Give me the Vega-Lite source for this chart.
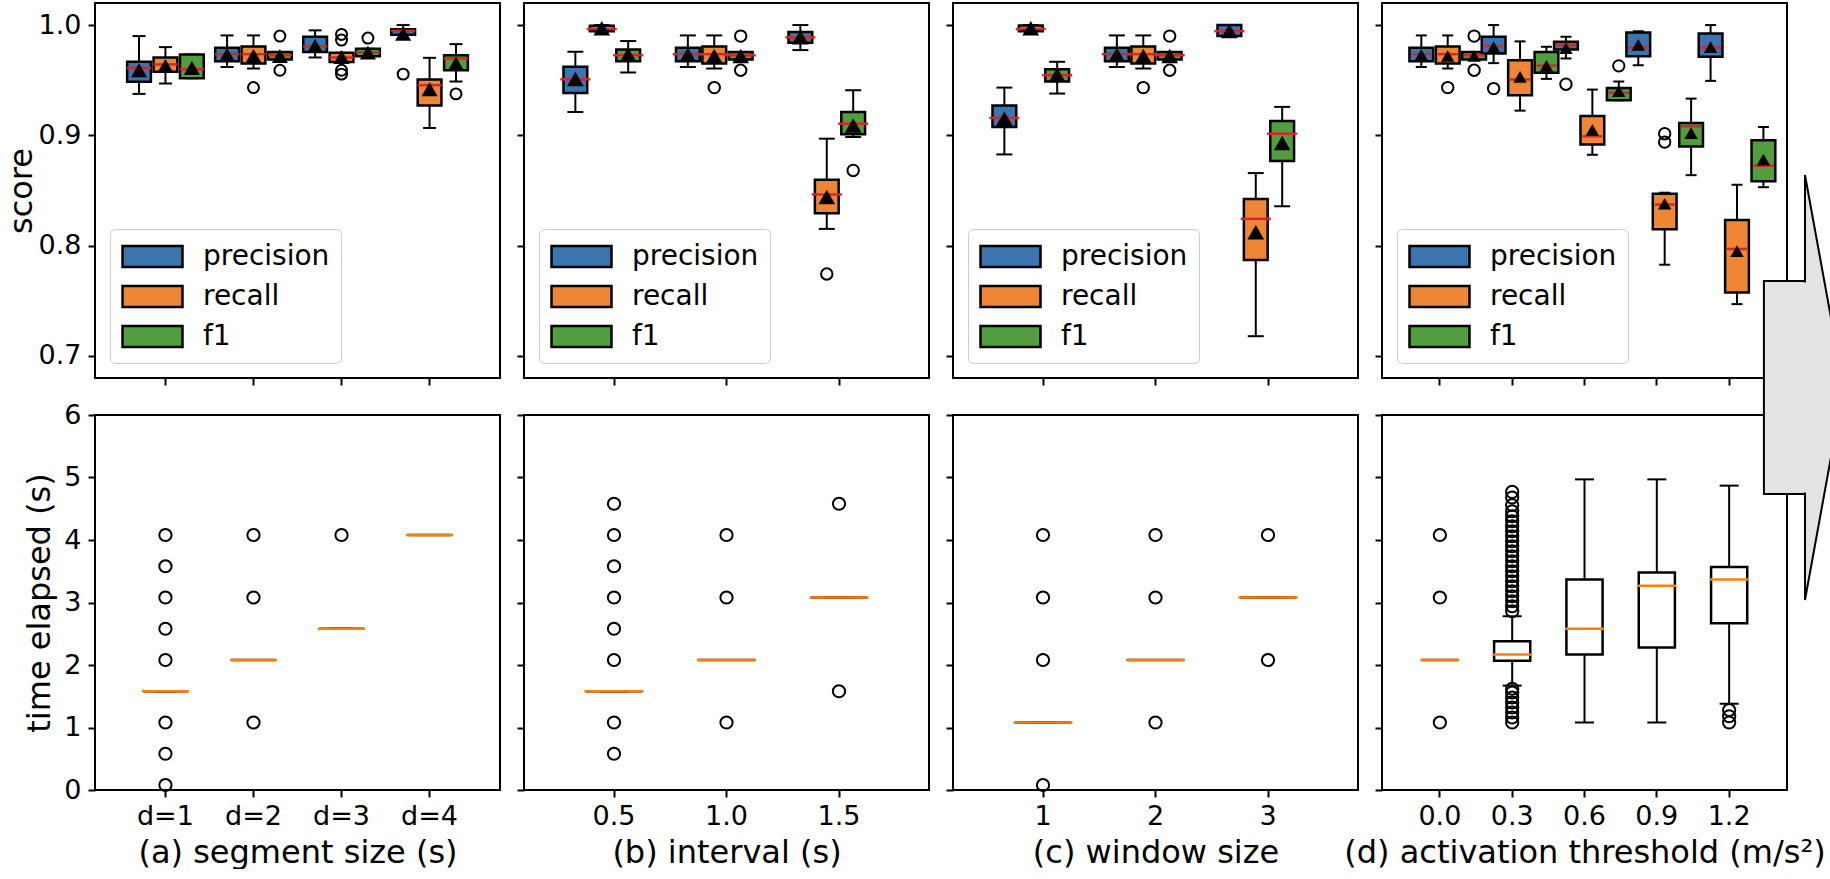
{
  "$schema": "https://vega.github.io/schema/vega-lite/v6.json",
  "padding": {"left": 4, "top": 2, "right": 0, "bottom": 0},
  "background": "white",
  "config": {
    "font": "DejaVu Sans",
    "view": {"stroke": "black", "strokeWidth": 2},
    "axis": {"domain": false, "grid": false, "tickColor": "black", "tickWidth": 2, "tickSize": 7, "labelColor": "black", "titleColor": "black", "labelFont": "DejaVu Sans", "titleFont": "DejaVu Sans", "labelFontSize": 27, "titleFontSize": 32, "titleFontWeight": "normal", "labelPadding": 7, "titlePadding": 3},
    "axisX": {"labelAngle": 0, "labelPadding": 6, "titlePadding": 8}
  },
  "datasets": {
    "box": [
      {"panel": "a", "param": "d=1", "metric": "precision", "lo": 0.9376, "q1": 0.9485, "med": 0.9612, "q3": 0.9667, "hi": 0.990, "mean": 0.959},
      {"panel": "a", "param": "d=1", "metric": "recall", "lo": 0.947, "q1": 0.9576, "med": 0.9643, "q3": 0.9706, "hi": 0.980, "mean": 0.963},
      {"panel": "a", "param": "d=1", "metric": "f1", "lo": 0.9518, "q1": 0.9518, "med": 0.960, "q3": 0.9733, "hi": 0.9733, "mean": 0.961},
      {"panel": "a", "param": "d=2", "metric": "precision", "lo": 0.962, "q1": 0.9673, "med": 0.9736, "q3": 0.9794, "hi": 0.9906, "mean": 0.973},
      {"panel": "a", "param": "d=2", "metric": "recall", "lo": 0.9606, "q1": 0.9652, "med": 0.9736, "q3": 0.9806, "hi": 0.9906, "mean": 0.972},
      {"panel": "a", "param": "d=2", "metric": "f1", "lo": 0.9688, "q1": 0.9688, "med": 0.9727, "q3": 0.9755, "hi": 0.9755, "mean": 0.972},
      {"panel": "a", "param": "d=3", "metric": "precision", "lo": 0.9706, "q1": 0.9755, "med": 0.9806, "q3": 0.9894, "hi": 0.9952, "mean": 0.981},
      {"panel": "a", "param": "d=3", "metric": "recall", "lo": 0.9664, "q1": 0.9664, "med": 0.9706, "q3": 0.9748, "hi": 0.9748, "mean": 0.971},
      {"panel": "a", "param": "d=3", "metric": "f1", "lo": 0.9718, "q1": 0.9718, "med": 0.9752, "q3": 0.9785, "hi": 0.9785, "mean": 0.975},
      {"panel": "a", "param": "d=4", "metric": "precision", "lo": 0.9912, "q1": 0.9912, "med": 0.9948, "q3": 0.9961, "hi": 1.0, "mean": 0.992},
      {"panel": "a", "param": "d=4", "metric": "recall", "lo": 0.9067, "q1": 0.927, "med": 0.9455, "q3": 0.9506, "hi": 0.9703, "mean": 0.9418},
      {"panel": "a", "param": "d=4", "metric": "f1", "lo": 0.9488, "q1": 0.959, "med": 0.9697, "q3": 0.9727, "hi": 0.9827, "mean": 0.965},
      {"panel": "b", "param": "0.5", "metric": "precision", "lo": 0.9212, "q1": 0.9385, "med": 0.9509, "q3": 0.9621, "hi": 0.9758, "mean": 0.951},
      {"panel": "b", "param": "0.5", "metric": "recall", "lo": 0.9945, "q1": 0.9945, "med": 0.9964, "q3": 0.9994, "hi": 1.0, "mean": 0.997},
      {"panel": "b", "param": "0.5", "metric": "f1", "lo": 0.957, "q1": 0.9673, "med": 0.9727, "q3": 0.9779, "hi": 0.9855, "mean": 0.973},
      {"panel": "b", "param": "1.0", "metric": "precision", "lo": 0.962, "q1": 0.9673, "med": 0.9736, "q3": 0.9794, "hi": 0.9906, "mean": 0.973},
      {"panel": "b", "param": "1.0", "metric": "recall", "lo": 0.9606, "q1": 0.9652, "med": 0.9736, "q3": 0.9806, "hi": 0.9906, "mean": 0.972},
      {"panel": "b", "param": "1.0", "metric": "f1", "lo": 0.9688, "q1": 0.9688, "med": 0.9727, "q3": 0.9755, "hi": 0.9755, "mean": 0.972},
      {"panel": "b", "param": "1.5", "metric": "precision", "lo": 0.9773, "q1": 0.9839, "med": 0.9888, "q3": 0.9936, "hi": 1.0, "mean": 0.989},
      {"panel": "b", "param": "1.5", "metric": "recall", "lo": 0.8152, "q1": 0.8294, "med": 0.8464, "q3": 0.8597, "hi": 0.897, "mean": 0.844},
      {"panel": "b", "param": "1.5", "metric": "f1", "lo": 0.8985, "q1": 0.9009, "med": 0.9106, "q3": 0.9212, "hi": 0.9409, "mean": 0.909},
      {"panel": "c", "param": "1", "metric": "precision", "lo": 0.8827, "q1": 0.9076, "med": 0.9158, "q3": 0.927, "hi": 0.9433, "mean": 0.915},
      {"panel": "c", "param": "1", "metric": "recall", "lo": 0.9945, "q1": 0.9945, "med": 0.9964, "q3": 0.9997, "hi": 1.0, "mean": 0.997},
      {"panel": "c", "param": "1", "metric": "f1", "lo": 0.9379, "q1": 0.9488, "med": 0.9545, "q3": 0.96, "hi": 0.9667, "mean": 0.955},
      {"panel": "c", "param": "2", "metric": "precision", "lo": 0.962, "q1": 0.9673, "med": 0.9736, "q3": 0.9794, "hi": 0.9906, "mean": 0.973},
      {"panel": "c", "param": "2", "metric": "recall", "lo": 0.9606, "q1": 0.9652, "med": 0.9736, "q3": 0.9806, "hi": 0.9906, "mean": 0.972},
      {"panel": "c", "param": "2", "metric": "f1", "lo": 0.9688, "q1": 0.9688, "med": 0.9727, "q3": 0.9755, "hi": 0.9755, "mean": 0.972},
      {"panel": "c", "param": "3", "metric": "precision", "lo": 0.99, "q1": 0.99, "med": 0.9945, "q3": 1.0, "hi": 1.0, "mean": 0.9945},
      {"panel": "c", "param": "3", "metric": "recall", "lo": 0.7179, "q1": 0.787, "med": 0.8243, "q3": 0.8424, "hi": 0.8658, "mean": 0.8121},
      {"panel": "c", "param": "3", "metric": "f1", "lo": 0.8357, "q1": 0.8767, "med": 0.9015, "q3": 0.913, "hi": 0.9258, "mean": 0.893},
      {"panel": "d", "param": "0.0", "metric": "precision", "lo": 0.962, "q1": 0.9673, "med": 0.9736, "q3": 0.9794, "hi": 0.9906, "mean": 0.973},
      {"panel": "d", "param": "0.0", "metric": "recall", "lo": 0.9606, "q1": 0.9652, "med": 0.9736, "q3": 0.9806, "hi": 0.9906, "mean": 0.972},
      {"panel": "d", "param": "0.0", "metric": "f1", "lo": 0.9688, "q1": 0.9688, "med": 0.9727, "q3": 0.9755, "hi": 0.9755, "mean": 0.972},
      {"panel": "d", "param": "0.3", "metric": "precision", "lo": 0.9655, "q1": 0.9742, "med": 0.9809, "q3": 0.9894, "hi": 1.0, "mean": 0.98},
      {"panel": "d", "param": "0.3", "metric": "recall", "lo": 0.9224, "q1": 0.9364, "med": 0.9506, "q3": 0.9682, "hi": 0.9852, "mean": 0.953},
      {"panel": "d", "param": "0.3", "metric": "f1", "lo": 0.9512, "q1": 0.9567, "med": 0.9633, "q3": 0.9755, "hi": 0.9803, "mean": 0.963},
      {"panel": "d", "param": "0.6", "metric": "precision", "lo": 0.9697, "q1": 0.9779, "med": 0.9818, "q3": 0.9848, "hi": 0.9894, "mean": 0.979},
      {"panel": "d", "param": "0.6", "metric": "recall", "lo": 0.8824, "q1": 0.8918, "med": 0.8991, "q3": 0.9176, "hi": 0.9415, "mean": 0.905},
      {"panel": "d", "param": "0.6", "metric": "f1", "lo": 0.9318, "q1": 0.9318, "med": 0.9385, "q3": 0.943, "hi": 0.9488, "mean": 0.94},
      {"panel": "d", "param": "0.9", "metric": "precision", "lo": 0.9636, "q1": 0.9718, "med": 0.9797, "q3": 0.9933, "hi": 0.9945, "mean": 0.982},
      {"panel": "d", "param": "0.9", "metric": "recall", "lo": 0.7827, "q1": 0.8148, "med": 0.8373, "q3": 0.847, "hi": 0.848, "mean": 0.838},
      {"panel": "d", "param": "0.9", "metric": "f1", "lo": 0.8639, "q1": 0.89, "med": 0.9082, "q3": 0.9112, "hi": 0.9333, "mean": 0.902},
      {"panel": "d", "param": "1.2", "metric": "precision", "lo": 0.9494, "q1": 0.9712, "med": 0.9797, "q3": 0.9924, "hi": 1.0, "mean": 0.98},
      {"panel": "d", "param": "1.2", "metric": "recall", "lo": 0.747, "q1": 0.7576, "med": 0.797, "q3": 0.8233, "hi": 0.8552, "mean": 0.795},
      {"panel": "d", "param": "1.2", "metric": "f1", "lo": 0.853, "q1": 0.8585, "med": 0.8724, "q3": 0.8955, "hi": 0.9076, "mean": 0.878}
    ],
    "out": [
      {"panel": "a", "param": "d=2", "metric": "recall", "v": 0.9433},
      {"panel": "a", "param": "d=2", "metric": "f1", "v": 0.990},
      {"panel": "a", "param": "d=2", "metric": "f1", "v": 0.959},
      {"panel": "a", "param": "d=3", "metric": "recall", "v": 0.9915},
      {"panel": "a", "param": "d=3", "metric": "recall", "v": 0.9864},
      {"panel": "a", "param": "d=3", "metric": "recall", "v": 0.959},
      {"panel": "a", "param": "d=3", "metric": "recall", "v": 0.9555},
      {"panel": "a", "param": "d=3", "metric": "f1", "v": 0.9882},
      {"panel": "a", "param": "d=4", "metric": "precision", "v": 0.9555},
      {"panel": "a", "param": "d=4", "metric": "f1", "v": 0.9376},
      {"panel": "b", "param": "1.0", "metric": "recall", "v": 0.9433},
      {"panel": "b", "param": "1.0", "metric": "f1", "v": 0.990},
      {"panel": "b", "param": "1.0", "metric": "f1", "v": 0.959},
      {"panel": "b", "param": "1.5", "metric": "recall", "v": 0.7743},
      {"panel": "b", "param": "1.5", "metric": "f1", "v": 0.8682},
      {"panel": "c", "param": "2", "metric": "recall", "v": 0.9433},
      {"panel": "c", "param": "2", "metric": "f1", "v": 0.990},
      {"panel": "c", "param": "2", "metric": "f1", "v": 0.959},
      {"panel": "d", "param": "0.0", "metric": "recall", "v": 0.9433},
      {"panel": "d", "param": "0.0", "metric": "f1", "v": 0.990},
      {"panel": "d", "param": "0.0", "metric": "f1", "v": 0.959},
      {"panel": "d", "param": "0.3", "metric": "precision", "v": 0.9424},
      {"panel": "d", "param": "0.6", "metric": "precision", "v": 0.9464},
      {"panel": "d", "param": "0.6", "metric": "f1", "v": 0.963},
      {"panel": "d", "param": "0.9", "metric": "recall", "v": 0.9015},
      {"panel": "d", "param": "0.9", "metric": "recall", "v": 0.8939}
    ],
    "tbox": [
      {"panel": "a", "param": "d=1", "lo": 1.58, "q1": 1.58, "med": 1.58, "q3": 1.58, "hi": 1.58},
      {"panel": "a", "param": "d=2", "lo": 2.08, "q1": 2.08, "med": 2.08, "q3": 2.08, "hi": 2.08},
      {"panel": "a", "param": "d=3", "lo": 2.58, "q1": 2.58, "med": 2.58, "q3": 2.58, "hi": 2.58},
      {"panel": "a", "param": "d=4", "lo": 4.08, "q1": 4.08, "med": 4.08, "q3": 4.08, "hi": 4.08},
      {"panel": "b", "param": "0.5", "lo": 1.58, "q1": 1.58, "med": 1.58, "q3": 1.58, "hi": 1.58},
      {"panel": "b", "param": "1.0", "lo": 2.08, "q1": 2.08, "med": 2.08, "q3": 2.08, "hi": 2.08},
      {"panel": "b", "param": "1.5", "lo": 3.08, "q1": 3.08, "med": 3.08, "q3": 3.08, "hi": 3.08},
      {"panel": "c", "param": "1", "lo": 1.08, "q1": 1.08, "med": 1.08, "q3": 1.08, "hi": 1.08},
      {"panel": "c", "param": "2", "lo": 2.08, "q1": 2.08, "med": 2.08, "q3": 2.08, "hi": 2.08},
      {"panel": "c", "param": "3", "lo": 3.08, "q1": 3.08, "med": 3.08, "q3": 3.08, "hi": 3.08},
      {"panel": "d", "param": "0.0", "lo": 2.08, "q1": 2.08, "med": 2.08, "q3": 2.08, "hi": 2.08},
      {"panel": "d", "param": "0.3", "lo": 1.67, "q1": 2.07, "med": 2.17, "q3": 2.38, "hi": 2.78},
      {"panel": "d", "param": "0.6", "lo": 1.08, "q1": 2.17, "med": 2.58, "q3": 3.37, "hi": 4.97},
      {"panel": "d", "param": "0.9", "lo": 1.08, "q1": 2.28, "med": 3.27, "q3": 3.48, "hi": 4.97},
      {"panel": "d", "param": "1.2", "lo": 1.38, "q1": 2.67, "med": 3.37, "q3": 3.57, "hi": 4.87}
    ],
    "tout": [
      {"panel": "a", "param": "d=1", "v": 4.08}, {"panel": "a", "param": "d=1", "v": 3.58}, {"panel": "a", "param": "d=1", "v": 3.08}, {"panel": "a", "param": "d=1", "v": 2.58},
      {"panel": "a", "param": "d=1", "v": 2.08}, {"panel": "a", "param": "d=1", "v": 1.08}, {"panel": "a", "param": "d=1", "v": 0.58}, {"panel": "a", "param": "d=1", "v": 0.08},
      {"panel": "a", "param": "d=2", "v": 4.08}, {"panel": "a", "param": "d=2", "v": 3.08}, {"panel": "a", "param": "d=2", "v": 1.08},
      {"panel": "a", "param": "d=3", "v": 4.08},
      {"panel": "b", "param": "0.5", "v": 4.58}, {"panel": "b", "param": "0.5", "v": 4.08}, {"panel": "b", "param": "0.5", "v": 3.58}, {"panel": "b", "param": "0.5", "v": 3.08},
      {"panel": "b", "param": "0.5", "v": 2.58}, {"panel": "b", "param": "0.5", "v": 2.08}, {"panel": "b", "param": "0.5", "v": 1.08}, {"panel": "b", "param": "0.5", "v": 0.58},
      {"panel": "b", "param": "1.0", "v": 4.08}, {"panel": "b", "param": "1.0", "v": 3.08}, {"panel": "b", "param": "1.0", "v": 1.08},
      {"panel": "b", "param": "1.5", "v": 4.58}, {"panel": "b", "param": "1.5", "v": 1.58},
      {"panel": "c", "param": "1", "v": 4.08}, {"panel": "c", "param": "1", "v": 3.08}, {"panel": "c", "param": "1", "v": 2.08}, {"panel": "c", "param": "1", "v": 0.08},
      {"panel": "c", "param": "2", "v": 4.08}, {"panel": "c", "param": "2", "v": 3.08}, {"panel": "c", "param": "2", "v": 1.08},
      {"panel": "c", "param": "3", "v": 4.08}, {"panel": "c", "param": "3", "v": 2.08},
      {"panel": "d", "param": "0.0", "v": 4.08}, {"panel": "d", "param": "0.0", "v": 3.08}, {"panel": "d", "param": "0.0", "v": 1.08},
      {"panel": "d", "param": "0.3", "v": 2.86}, {"panel": "d", "param": "0.3", "v": 2.94}, {"panel": "d", "param": "0.3", "v": 3.02}, {"panel": "d", "param": "0.3", "v": 3.10},
      {"panel": "d", "param": "0.3", "v": 3.18}, {"panel": "d", "param": "0.3", "v": 3.26}, {"panel": "d", "param": "0.3", "v": 3.34}, {"panel": "d", "param": "0.3", "v": 3.42},
      {"panel": "d", "param": "0.3", "v": 3.50}, {"panel": "d", "param": "0.3", "v": 3.58}, {"panel": "d", "param": "0.3", "v": 3.66}, {"panel": "d", "param": "0.3", "v": 3.74},
      {"panel": "d", "param": "0.3", "v": 3.82}, {"panel": "d", "param": "0.3", "v": 3.90}, {"panel": "d", "param": "0.3", "v": 3.98}, {"panel": "d", "param": "0.3", "v": 4.06},
      {"panel": "d", "param": "0.3", "v": 4.14}, {"panel": "d", "param": "0.3", "v": 4.22}, {"panel": "d", "param": "0.3", "v": 4.30}, {"panel": "d", "param": "0.3", "v": 4.38},
      {"panel": "d", "param": "0.3", "v": 4.46}, {"panel": "d", "param": "0.3", "v": 4.56}, {"panel": "d", "param": "0.3", "v": 4.68}, {"panel": "d", "param": "0.3", "v": 4.77},
      {"panel": "d", "param": "0.3", "v": 1.08}, {"panel": "d", "param": "0.3", "v": 1.16}, {"panel": "d", "param": "0.3", "v": 1.24}, {"panel": "d", "param": "0.3", "v": 1.32},
      {"panel": "d", "param": "0.3", "v": 1.40}, {"panel": "d", "param": "0.3", "v": 1.48}, {"panel": "d", "param": "0.3", "v": 1.56}, {"panel": "d", "param": "0.3", "v": 1.62},
      {"panel": "d", "param": "1.2", "v": 1.28}, {"panel": "d", "param": "1.2", "v": 1.18}, {"panel": "d", "param": "1.2", "v": 1.08}
    ],
    "arrowShaft": [{"x": 0.943, "x2": 1.0444, "y": 8.144, "y2": 4.736}],
    "arrowHead": [{"x": 1.0444, "y": 9.84, "y2": 3.04}, {"x": 1.14, "y": 6.44, "y2": 6.44}],
    "arrowSeam": [{"x": 1.038, "x2": 1.052, "y": 8.12, "y2": 4.76}]
  },
  "concat": [
    {
      "width": 405, "height": 375,
      "encoding": {
        "x": {"field": "param", "type": "nominal", "scale": {"type": "band", "domain": ["d=1", "d=2", "d=3", "d=4"], "paddingInner": 0, "paddingOuter": 0.3}, "axis": {"labels": false, "title": null}},
        "xOffset": {"field": "metric", "type": "nominal", "scale": {"domain": ["precision", "recall", "f1"], "paddingInner": 0.1, "paddingOuter": 0.2167}}
      },
      "layer": [
        {"data": {"name": "box"}, "transform": [{"filter": "datum.panel === 'a'"}],
         "layer": [
          {"mark": {"type": "rule", "color": "black", "strokeWidth": 2}, "encoding": {"y": {"field": "lo", "type": "quantitative", "scale": {"domain": [0.68, 1.02], "nice": false, "zero": false}, "axis": {"values": [0.7, 0.8, 0.9, 1.0], "format": ".1f", "title": "score", "titlePadding": 0}}, "y2": {"field": "q1"}}},
          {"mark": {"type": "rule", "color": "black", "strokeWidth": 2}, "encoding": {"y": {"field": "q3", "type": "quantitative", "axis": {"values": [0.7, 0.8, 0.9, 1.0], "format": ".1f", "title": "score", "titlePadding": 0}}, "y2": {"field": "hi"}}},
          {"mark": {"type": "tick", "color": "black", "thickness": 2, "size": 13, "opacity": 1}, "encoding": {"y": {"field": "lo", "type": "quantitative", "axis": {"values": [0.7, 0.8, 0.9, 1.0], "format": ".1f", "title": "score", "titlePadding": 0}}}},
          {"mark": {"type": "tick", "color": "black", "thickness": 2, "size": 13, "opacity": 1}, "encoding": {"y": {"field": "hi", "type": "quantitative", "axis": {"values": [0.7, 0.8, 0.9, 1.0], "format": ".1f", "title": "score", "titlePadding": 0}}}},
          {"mark": {"type": "bar", "stroke": "black", "strokeWidth": 2.5, "opacity": 1}, "encoding": {"y": {"field": "q1", "type": "quantitative", "axis": {"values": [0.7, 0.8, 0.9, 1.0], "format": ".1f", "title": "score", "titlePadding": 0}}, "y2": {"field": "q3"},
            "color": {"field": "metric", "type": "nominal", "scale": {"domain": ["precision", "recall", "f1"], "range": ["#3b75af", "#ef8636", "#519e3e"]},
              "legend": {"title": null, "orient": "bottom-left", "offset": 15, "symbolType": "M-1,-0.7H3V0.7H-1Z", "symbolSize": 900, "symbolStrokeColor": "black", "symbolStrokeWidth": 2.5, "labelFontSize": 28, "labelColor": "black", "labelOffset": 49, "padding": 11, "rowPadding": 8, "strokeColor": "#cccccc", "fillColor": "white", "cornerRadius": 5}}}},
          {"mark": {"type": "tick", "color": "#d62728", "thickness": 2.5, "size": 24, "opacity": 1}, "encoding": {"y": {"field": "med", "type": "quantitative", "axis": {"values": [0.7, 0.8, 0.9, 1.0], "format": ".1f", "title": "score", "titlePadding": 0}}}},
          {"mark": {"type": "point", "shape": "triangle-up", "filled": true, "color": "black", "size": 260, "opacity": 1}, "encoding": {"y": {"field": "mean", "type": "quantitative", "axis": {"values": [0.7, 0.8, 0.9, 1.0], "format": ".1f", "title": "score", "titlePadding": 0}}}}
         ]},
        {"data": {"name": "out"}, "transform": [{"filter": "datum.panel === 'a'"}],
         "mark": {"type": "point", "shape": "circle", "filled": false, "color": "black", "strokeWidth": 2, "size": 120, "opacity": 1},
         "encoding": {"y": {"field": "v", "type": "quantitative", "axis": {"values": [0.7, 0.8, 0.9, 1.0], "format": ".1f", "title": "score", "titlePadding": 0}}}}
      ]
    },
    {
      "width": 405, "height": 375,
      "encoding": {
        "x": {"field": "param", "type": "nominal", "scale": {"type": "band", "domain": ["0.5", "1.0", "1.5"], "paddingInner": 0, "paddingOuter": 0.3}, "axis": {"labels": false, "title": null}},
        "xOffset": {"field": "metric", "type": "nominal", "scale": {"domain": ["precision", "recall", "f1"], "paddingInner": 0.1, "paddingOuter": 0.2167}}
      },
      "layer": [
        {"data": {"name": "box"}, "transform": [{"filter": "datum.panel === 'b'"}],
         "layer": [
          {"mark": {"type": "rule", "color": "black", "strokeWidth": 2}, "encoding": {"y": {"field": "lo", "type": "quantitative", "scale": {"domain": [0.68, 1.02], "nice": false, "zero": false}, "axis": {"values": [0.7, 0.8, 0.9, 1.0], "labels": false, "title": null}}, "y2": {"field": "q1"}}},
          {"mark": {"type": "rule", "color": "black", "strokeWidth": 2}, "encoding": {"y": {"field": "q3", "type": "quantitative", "axis": {"values": [0.7, 0.8, 0.9, 1.0], "labels": false, "title": null}}, "y2": {"field": "hi"}}},
          {"mark": {"type": "tick", "color": "black", "thickness": 2, "size": 16, "opacity": 1}, "encoding": {"y": {"field": "lo", "type": "quantitative", "axis": {"values": [0.7, 0.8, 0.9, 1.0], "labels": false, "title": null}}}},
          {"mark": {"type": "tick", "color": "black", "thickness": 2, "size": 16, "opacity": 1}, "encoding": {"y": {"field": "hi", "type": "quantitative", "axis": {"values": [0.7, 0.8, 0.9, 1.0], "labels": false, "title": null}}}},
          {"mark": {"type": "bar", "stroke": "black", "strokeWidth": 2.5, "opacity": 1}, "encoding": {"y": {"field": "q1", "type": "quantitative", "axis": {"values": [0.7, 0.8, 0.9, 1.0], "labels": false, "title": null}}, "y2": {"field": "q3"},
            "color": {"field": "metric", "type": "nominal", "scale": {"domain": ["precision", "recall", "f1"], "range": ["#3b75af", "#ef8636", "#519e3e"]},
              "legend": {"title": null, "orient": "bottom-left", "offset": 15, "symbolType": "M-1,-0.7H3V0.7H-1Z", "symbolSize": 900, "symbolStrokeColor": "black", "symbolStrokeWidth": 2.5, "labelFontSize": 28, "labelColor": "black", "labelOffset": 49, "padding": 11, "rowPadding": 8, "strokeColor": "#cccccc", "fillColor": "white", "cornerRadius": 5}}}},
          {"mark": {"type": "tick", "color": "#d62728", "thickness": 2.5, "size": 30, "opacity": 1}, "encoding": {"y": {"field": "med", "type": "quantitative", "axis": {"values": [0.7, 0.8, 0.9, 1.0], "labels": false, "title": null}}}},
          {"mark": {"type": "point", "shape": "triangle-up", "filled": true, "color": "black", "size": 280, "opacity": 1}, "encoding": {"y": {"field": "mean", "type": "quantitative", "axis": {"values": [0.7, 0.8, 0.9, 1.0], "labels": false, "title": null}}}}
         ]},
        {"data": {"name": "out"}, "transform": [{"filter": "datum.panel === 'b'"}],
         "mark": {"type": "point", "shape": "circle", "filled": false, "color": "black", "strokeWidth": 2, "size": 130, "opacity": 1},
         "encoding": {"y": {"field": "v", "type": "quantitative", "axis": {"values": [0.7, 0.8, 0.9, 1.0], "labels": false, "title": null}}}}
      ]
    },
    {
      "width": 405, "height": 375,
      "encoding": {
        "x": {"field": "param", "type": "nominal", "scale": {"type": "band", "domain": ["1", "2", "3"], "paddingInner": 0, "paddingOuter": 0.3}, "axis": {"labels": false, "title": null}},
        "xOffset": {"field": "metric", "type": "nominal", "scale": {"domain": ["precision", "recall", "f1"], "paddingInner": 0.1, "paddingOuter": 0.2167}}
      },
      "layer": [
        {"data": {"name": "box"}, "transform": [{"filter": "datum.panel === 'c'"}],
         "layer": [
          {"mark": {"type": "rule", "color": "black", "strokeWidth": 2}, "encoding": {"y": {"field": "lo", "type": "quantitative", "scale": {"domain": [0.68, 1.02], "nice": false, "zero": false}, "axis": {"values": [0.7, 0.8, 0.9, 1.0], "labels": false, "title": null}}, "y2": {"field": "q1"}}},
          {"mark": {"type": "rule", "color": "black", "strokeWidth": 2}, "encoding": {"y": {"field": "q3", "type": "quantitative", "axis": {"values": [0.7, 0.8, 0.9, 1.0], "labels": false, "title": null}}, "y2": {"field": "hi"}}},
          {"mark": {"type": "tick", "color": "black", "thickness": 2, "size": 16, "opacity": 1}, "encoding": {"y": {"field": "lo", "type": "quantitative", "axis": {"values": [0.7, 0.8, 0.9, 1.0], "labels": false, "title": null}}}},
          {"mark": {"type": "tick", "color": "black", "thickness": 2, "size": 16, "opacity": 1}, "encoding": {"y": {"field": "hi", "type": "quantitative", "axis": {"values": [0.7, 0.8, 0.9, 1.0], "labels": false, "title": null}}}},
          {"mark": {"type": "bar", "stroke": "black", "strokeWidth": 2.5, "opacity": 1}, "encoding": {"y": {"field": "q1", "type": "quantitative", "axis": {"values": [0.7, 0.8, 0.9, 1.0], "labels": false, "title": null}}, "y2": {"field": "q3"},
            "color": {"field": "metric", "type": "nominal", "scale": {"domain": ["precision", "recall", "f1"], "range": ["#3b75af", "#ef8636", "#519e3e"]},
              "legend": {"title": null, "orient": "bottom-left", "offset": 15, "symbolType": "M-1,-0.7H3V0.7H-1Z", "symbolSize": 900, "symbolStrokeColor": "black", "symbolStrokeWidth": 2.5, "labelFontSize": 28, "labelColor": "black", "labelOffset": 49, "padding": 11, "rowPadding": 8, "strokeColor": "#cccccc", "fillColor": "white", "cornerRadius": 5}}}},
          {"mark": {"type": "tick", "color": "#d62728", "thickness": 2.5, "size": 30, "opacity": 1}, "encoding": {"y": {"field": "med", "type": "quantitative", "axis": {"values": [0.7, 0.8, 0.9, 1.0], "labels": false, "title": null}}}},
          {"mark": {"type": "point", "shape": "triangle-up", "filled": true, "color": "black", "size": 280, "opacity": 1}, "encoding": {"y": {"field": "mean", "type": "quantitative", "axis": {"values": [0.7, 0.8, 0.9, 1.0], "labels": false, "title": null}}}}
         ]},
        {"data": {"name": "out"}, "transform": [{"filter": "datum.panel === 'c'"}],
         "mark": {"type": "point", "shape": "circle", "filled": false, "color": "black", "strokeWidth": 2, "size": 130, "opacity": 1},
         "encoding": {"y": {"field": "v", "type": "quantitative", "axis": {"values": [0.7, 0.8, 0.9, 1.0], "labels": false, "title": null}}}}
      ]
    },
    {
      "width": 405, "height": 375,
      "encoding": {
        "x": {"field": "param", "type": "nominal", "scale": {"type": "band", "domain": ["0.0", "0.3", "0.6", "0.9", "1.2"], "paddingInner": 0, "paddingOuter": 0.3}, "axis": {"labels": false, "title": null}},
        "xOffset": {"field": "metric", "type": "nominal", "scale": {"domain": ["precision", "recall", "f1"], "paddingInner": 0.1, "paddingOuter": 0.2167}}
      },
      "layer": [
        {"data": {"name": "box"}, "transform": [{"filter": "datum.panel === 'd'"}],
         "layer": [
          {"mark": {"type": "rule", "color": "black", "strokeWidth": 2}, "encoding": {"y": {"field": "lo", "type": "quantitative", "scale": {"domain": [0.68, 1.02], "nice": false, "zero": false}, "axis": {"values": [0.7, 0.8, 0.9, 1.0], "labels": false, "title": null}}, "y2": {"field": "q1"}}},
          {"mark": {"type": "rule", "color": "black", "strokeWidth": 2}, "encoding": {"y": {"field": "q3", "type": "quantitative", "axis": {"values": [0.7, 0.8, 0.9, 1.0], "labels": false, "title": null}}, "y2": {"field": "hi"}}},
          {"mark": {"type": "tick", "color": "black", "thickness": 2, "size": 11, "opacity": 1}, "encoding": {"y": {"field": "lo", "type": "quantitative", "axis": {"values": [0.7, 0.8, 0.9, 1.0], "labels": false, "title": null}}}},
          {"mark": {"type": "tick", "color": "black", "thickness": 2, "size": 11, "opacity": 1}, "encoding": {"y": {"field": "hi", "type": "quantitative", "axis": {"values": [0.7, 0.8, 0.9, 1.0], "labels": false, "title": null}}}},
          {"mark": {"type": "bar", "stroke": "black", "strokeWidth": 2.5, "opacity": 1}, "encoding": {"y": {"field": "q1", "type": "quantitative", "axis": {"values": [0.7, 0.8, 0.9, 1.0], "labels": false, "title": null}}, "y2": {"field": "q3"},
            "color": {"field": "metric", "type": "nominal", "scale": {"domain": ["precision", "recall", "f1"], "range": ["#3b75af", "#ef8636", "#519e3e"]},
              "legend": {"title": null, "orient": "bottom-left", "offset": 15, "symbolType": "M-1,-0.7H3V0.7H-1Z", "symbolSize": 900, "symbolStrokeColor": "black", "symbolStrokeWidth": 2.5, "labelFontSize": 28, "labelColor": "black", "labelOffset": 49, "padding": 11, "rowPadding": 8, "strokeColor": "#cccccc", "fillColor": "white", "cornerRadius": 5}}}},
          {"mark": {"type": "tick", "color": "#d62728", "thickness": 2.5, "size": 20, "opacity": 1}, "encoding": {"y": {"field": "med", "type": "quantitative", "axis": {"values": [0.7, 0.8, 0.9, 1.0], "labels": false, "title": null}}}},
          {"mark": {"type": "point", "shape": "triangle-up", "filled": true, "color": "black", "size": 180, "opacity": 1}, "encoding": {"y": {"field": "mean", "type": "quantitative", "axis": {"values": [0.7, 0.8, 0.9, 1.0], "labels": false, "title": null}}}}
         ]},
        {"data": {"name": "out"}, "transform": [{"filter": "datum.panel === 'd'"}],
         "mark": {"type": "point", "shape": "circle", "filled": false, "color": "black", "strokeWidth": 2, "size": 130, "opacity": 1},
         "encoding": {"y": {"field": "v", "type": "quantitative", "axis": {"values": [0.7, 0.8, 0.9, 1.0], "labels": false, "title": null}}}}
      ]
    },
    {
      "width": 405, "height": 375,
      "encoding": {
        "x": {"field": "param", "type": "nominal", "scale": {"type": "band", "domain": ["d=1", "d=2", "d=3", "d=4"], "paddingInner": 0, "paddingOuter": 0.3}, "axis": {"title": "(a) segment size (s)"}}
      },
      "layer": [
        {"data": {"name": "tbox"}, "transform": [{"filter": "datum.panel === 'a'"}],
         "layer": [
          {"mark": {"type": "rule", "color": "black", "strokeWidth": 2}, "encoding": {"y": {"field": "lo", "type": "quantitative", "scale": {"domain": [0, 6], "nice": false, "zero": false}, "axis": {"values": [0, 1, 2, 3, 4, 5, 6], "title": "time elapsed (s)", "titlePadding": 7}}, "y2": {"field": "q1"}}},
          {"mark": {"type": "rule", "color": "black", "strokeWidth": 2}, "encoding": {"y": {"field": "q3", "type": "quantitative", "axis": {"values": [0, 1, 2, 3, 4, 5, 6], "title": "time elapsed (s)", "titlePadding": 7}}, "y2": {"field": "hi"}}},
          {"mark": {"type": "tick", "color": "black", "thickness": 2, "size": 22, "opacity": 1}, "encoding": {"y": {"field": "lo", "type": "quantitative", "axis": {"values": [0, 1, 2, 3, 4, 5, 6], "title": "time elapsed (s)", "titlePadding": 7}}}},
          {"mark": {"type": "tick", "color": "black", "thickness": 2, "size": 22, "opacity": 1}, "encoding": {"y": {"field": "hi", "type": "quantitative", "axis": {"values": [0, 1, 2, 3, 4, 5, 6], "title": "time elapsed (s)", "titlePadding": 7}}}},
          {"mark": {"type": "bar", "fill": "white", "fillOpacity": 0, "stroke": "black", "strokeWidth": 2.5, "width": {"band": 0.5}}, "encoding": {"y": {"field": "q1", "type": "quantitative", "axis": {"values": [0, 1, 2, 3, 4, 5, 6], "title": "time elapsed (s)", "titlePadding": 7}}, "y2": {"field": "q3"}}},
          {"mark": {"type": "tick", "color": "#ff7f0e", "thickness": 2.5, "size": 47, "opacity": 1}, "encoding": {"y": {"field": "med", "type": "quantitative", "axis": {"values": [0, 1, 2, 3, 4, 5, 6], "title": "time elapsed (s)", "titlePadding": 7}}}}
         ]},
        {"data": {"name": "tout"}, "transform": [{"filter": "datum.panel === 'a'"}],
         "mark": {"type": "point", "shape": "circle", "filled": false, "color": "black", "strokeWidth": 2, "size": 150, "opacity": 1},
         "encoding": {"y": {"field": "v", "type": "quantitative", "axis": {"values": [0, 1, 2, 3, 4, 5, 6], "title": "time elapsed (s)", "titlePadding": 7}}}}
      ]
    },
    {
      "width": 405, "height": 375,
      "encoding": {
        "x": {"field": "param", "type": "nominal", "scale": {"type": "band", "domain": ["0.5", "1.0", "1.5"], "paddingInner": 0, "paddingOuter": 0.3}, "axis": {"title": "(b) interval (s)"}}
      },
      "layer": [
        {"data": {"name": "tbox"}, "transform": [{"filter": "datum.panel === 'b'"}],
         "layer": [
          {"mark": {"type": "rule", "color": "black", "strokeWidth": 2}, "encoding": {"y": {"field": "lo", "type": "quantitative", "scale": {"domain": [0, 6], "nice": false, "zero": false}, "axis": {"values": [0, 1, 2, 3, 4, 5, 6], "labels": false, "title": null}}, "y2": {"field": "q1"}}},
          {"mark": {"type": "rule", "color": "black", "strokeWidth": 2}, "encoding": {"y": {"field": "q3", "type": "quantitative", "axis": {"values": [0, 1, 2, 3, 4, 5, 6], "labels": false, "title": null}}, "y2": {"field": "hi"}}},
          {"mark": {"type": "tick", "color": "black", "thickness": 2, "size": 28, "opacity": 1}, "encoding": {"y": {"field": "lo", "type": "quantitative", "axis": {"values": [0, 1, 2, 3, 4, 5, 6], "labels": false, "title": null}}}},
          {"mark": {"type": "tick", "color": "black", "thickness": 2, "size": 28, "opacity": 1}, "encoding": {"y": {"field": "hi", "type": "quantitative", "axis": {"values": [0, 1, 2, 3, 4, 5, 6], "labels": false, "title": null}}}},
          {"mark": {"type": "bar", "fill": "white", "fillOpacity": 0, "stroke": "black", "strokeWidth": 2.5, "width": {"band": 0.5}}, "encoding": {"y": {"field": "q1", "type": "quantitative", "axis": {"values": [0, 1, 2, 3, 4, 5, 6], "labels": false, "title": null}}, "y2": {"field": "q3"}}},
          {"mark": {"type": "tick", "color": "#ff7f0e", "thickness": 2.5, "size": 59, "opacity": 1}, "encoding": {"y": {"field": "med", "type": "quantitative", "axis": {"values": [0, 1, 2, 3, 4, 5, 6], "labels": false, "title": null}}}}
         ]},
        {"data": {"name": "tout"}, "transform": [{"filter": "datum.panel === 'b'"}],
         "mark": {"type": "point", "shape": "circle", "filled": false, "color": "black", "strokeWidth": 2, "size": 150, "opacity": 1},
         "encoding": {"y": {"field": "v", "type": "quantitative", "axis": {"values": [0, 1, 2, 3, 4, 5, 6], "labels": false, "title": null}}}}
      ]
    },
    {
      "width": 405, "height": 375,
      "encoding": {
        "x": {"field": "param", "type": "nominal", "scale": {"type": "band", "domain": ["1", "2", "3"], "paddingInner": 0, "paddingOuter": 0.3}, "axis": {"title": "(c) window size"}}
      },
      "layer": [
        {"data": {"name": "tbox"}, "transform": [{"filter": "datum.panel === 'c'"}],
         "layer": [
          {"mark": {"type": "rule", "color": "black", "strokeWidth": 2}, "encoding": {"y": {"field": "lo", "type": "quantitative", "scale": {"domain": [0, 6], "nice": false, "zero": false}, "axis": {"values": [0, 1, 2, 3, 4, 5, 6], "labels": false, "title": null}}, "y2": {"field": "q1"}}},
          {"mark": {"type": "rule", "color": "black", "strokeWidth": 2}, "encoding": {"y": {"field": "q3", "type": "quantitative", "axis": {"values": [0, 1, 2, 3, 4, 5, 6], "labels": false, "title": null}}, "y2": {"field": "hi"}}},
          {"mark": {"type": "tick", "color": "black", "thickness": 2, "size": 28, "opacity": 1}, "encoding": {"y": {"field": "lo", "type": "quantitative", "axis": {"values": [0, 1, 2, 3, 4, 5, 6], "labels": false, "title": null}}}},
          {"mark": {"type": "tick", "color": "black", "thickness": 2, "size": 28, "opacity": 1}, "encoding": {"y": {"field": "hi", "type": "quantitative", "axis": {"values": [0, 1, 2, 3, 4, 5, 6], "labels": false, "title": null}}}},
          {"mark": {"type": "bar", "fill": "white", "fillOpacity": 0, "stroke": "black", "strokeWidth": 2.5, "width": {"band": 0.5}}, "encoding": {"y": {"field": "q1", "type": "quantitative", "axis": {"values": [0, 1, 2, 3, 4, 5, 6], "labels": false, "title": null}}, "y2": {"field": "q3"}}},
          {"mark": {"type": "tick", "color": "#ff7f0e", "thickness": 2.5, "size": 59, "opacity": 1}, "encoding": {"y": {"field": "med", "type": "quantitative", "axis": {"values": [0, 1, 2, 3, 4, 5, 6], "labels": false, "title": null}}}}
         ]},
        {"data": {"name": "tout"}, "transform": [{"filter": "datum.panel === 'c'"}],
         "mark": {"type": "point", "shape": "circle", "filled": false, "color": "black", "strokeWidth": 2, "size": 150, "opacity": 1},
         "encoding": {"y": {"field": "v", "type": "quantitative", "axis": {"values": [0, 1, 2, 3, 4, 5, 6], "labels": false, "title": null}}}}
      ]
    },
    {
      "width": 405, "height": 375,
      "layer": [
        {
          "encoding": {
            "x": {"field": "param", "type": "nominal", "scale": {"type": "band", "domain": ["0.0", "0.3", "0.6", "0.9", "1.2"], "paddingInner": 0, "paddingOuter": 0.3}, "axis": {"title": "(d) activation threshold (m/s²)"}}
          },
          "layer": [
            {"data": {"name": "tbox"}, "transform": [{"filter": "datum.panel === 'd'"}],
             "layer": [
              {"mark": {"type": "rule", "color": "black", "strokeWidth": 2}, "encoding": {"y": {"field": "lo", "type": "quantitative", "scale": {"domain": [0, 6], "nice": false, "zero": false}, "axis": {"values": [0, 1, 2, 3, 4, 5, 6], "labels": false, "title": null}}, "y2": {"field": "q1"}}},
              {"mark": {"type": "rule", "color": "black", "strokeWidth": 2}, "encoding": {"y": {"field": "q3", "type": "quantitative", "axis": {"values": [0, 1, 2, 3, 4, 5, 6], "labels": false, "title": null}}, "y2": {"field": "hi"}}},
              {"mark": {"type": "tick", "color": "black", "thickness": 2, "size": 19, "opacity": 1}, "encoding": {"y": {"field": "lo", "type": "quantitative", "axis": {"values": [0, 1, 2, 3, 4, 5, 6], "labels": false, "title": null}}}},
              {"mark": {"type": "tick", "color": "black", "thickness": 2, "size": 19, "opacity": 1}, "encoding": {"y": {"field": "hi", "type": "quantitative", "axis": {"values": [0, 1, 2, 3, 4, 5, 6], "labels": false, "title": null}}}},
              {"mark": {"type": "bar", "fill": "white", "fillOpacity": 0, "stroke": "black", "strokeWidth": 2.5, "width": {"band": 0.5}}, "encoding": {"y": {"field": "q1", "type": "quantitative", "axis": {"values": [0, 1, 2, 3, 4, 5, 6], "labels": false, "title": null}}, "y2": {"field": "q3"}}},
              {"mark": {"type": "tick", "color": "#ff7f0e", "thickness": 2.5, "size": 39, "opacity": 1}, "encoding": {"y": {"field": "med", "type": "quantitative", "axis": {"values": [0, 1, 2, 3, 4, 5, 6], "labels": false, "title": null}}}}
             ]},
            {"data": {"name": "tout"}, "transform": [{"filter": "datum.panel === 'd'"}],
             "mark": {"type": "point", "shape": "circle", "filled": false, "color": "black", "strokeWidth": 2, "size": 150, "opacity": 1},
             "encoding": {"y": {"field": "v", "type": "quantitative", "axis": {"values": [0, 1, 2, 3, 4, 5, 6], "labels": false, "title": null}}}}
          ]
        },
        {
          "layer": [
            {"data": {"name": "arrowShaft"}, "mark": {"type": "rect", "fill": "#e3e3e3", "stroke": "black", "strokeWidth": 2, "clip": false},
             "encoding": {"x": {"field": "x", "type": "quantitative", "scale": {"domain": [0, 1], "nice": false, "zero": false}, "axis": null}, "x2": {"field": "x2"},
                          "y": {"field": "y", "type": "quantitative", "scale": {"domain": [0, 6], "nice": false, "zero": false}, "axis": null}, "y2": {"field": "y2"}}},
            {"data": {"name": "arrowHead"}, "mark": {"type": "area", "fill": "#e3e3e3", "stroke": "black", "strokeWidth": 2, "opacity": 1, "clip": false},
             "encoding": {"x": {"field": "x", "type": "quantitative", "scale": {"domain": [0, 1], "nice": false, "zero": false}, "axis": null},
                          "y": {"field": "y", "type": "quantitative", "scale": {"domain": [0, 6], "nice": false, "zero": false}, "axis": null}, "y2": {"field": "y2"}}},
            {"data": {"name": "arrowSeam"}, "mark": {"type": "rect", "fill": "#e3e3e3", "strokeWidth": 0, "clip": false},
             "encoding": {"x": {"field": "x", "type": "quantitative", "scale": {"domain": [0, 1], "nice": false, "zero": false}, "axis": null}, "x2": {"field": "x2"},
                          "y": {"field": "y", "type": "quantitative", "scale": {"domain": [0, 6], "nice": false, "zero": false}, "axis": null}, "y2": {"field": "y2"}}}
          ]
        }
      ],
      "resolve": {"scale": {"x": "independent", "y": "independent"}}
    }
  ],
  "columns": 4,
  "bounds": "flush",
  "spacing": {"row": 37, "column": 24},
  "resolve": {"scale": {"color": "independent"}, "legend": {"color": "independent"}}
}
